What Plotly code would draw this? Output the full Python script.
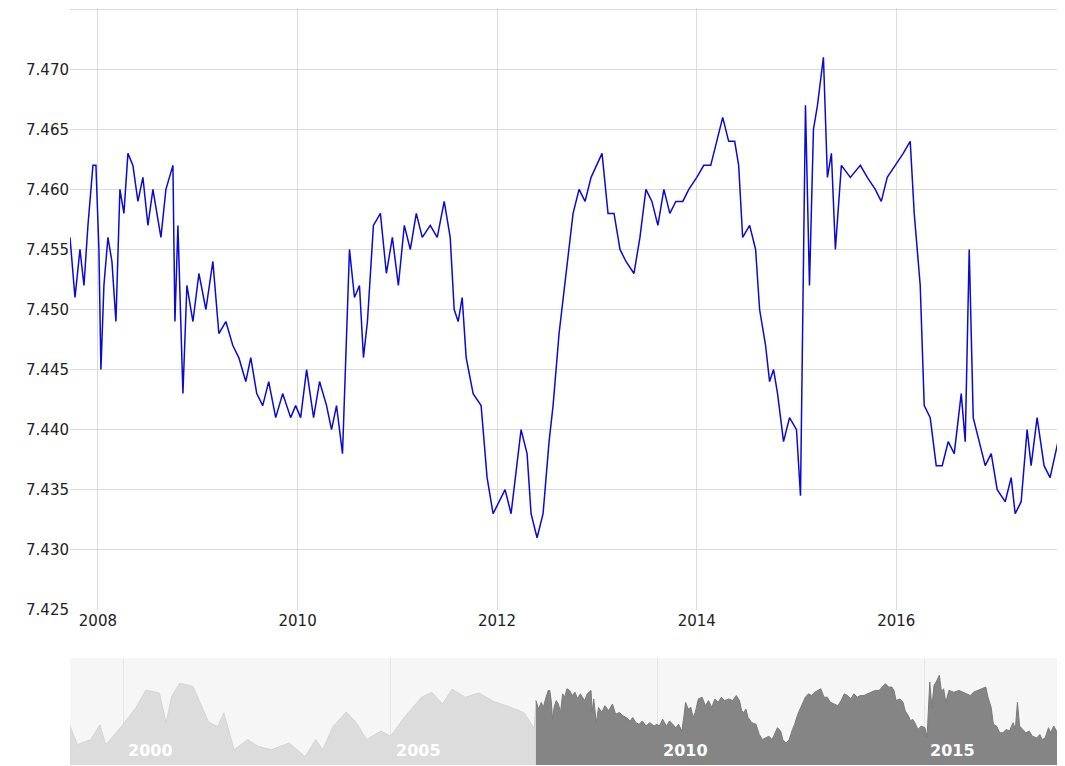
import pandas as pd
import plotly.graph_objects as go

# main series: decimal year, EUR/DKK
main_t = [2007.72, 2007.77, 2007.82, 2007.86, 2007.90, 2007.95, 2007.98, 2008.01, 2008.03, 2008.06,
          2008.10, 2008.14, 2008.18, 2008.22, 2008.26, 2008.30, 2008.35, 2008.40, 2008.45, 2008.50,
          2008.55, 2008.63, 2008.68, 2008.75, 2008.77, 2008.80, 2008.85, 2008.89, 2008.95, 2009.01,
          2009.08, 2009.15, 2009.21, 2009.28, 2009.35, 2009.41, 2009.48, 2009.53, 2009.59, 2009.65,
          2009.71, 2009.78, 2009.85, 2009.93, 2009.98, 2010.03, 2010.09, 2010.16, 2010.22, 2010.29,
          2010.34, 2010.39, 2010.45, 2010.49, 2010.52, 2010.57, 2010.62, 2010.66, 2010.70, 2010.76,
          2010.83, 2010.89, 2010.95, 2011.01, 2011.07, 2011.13, 2011.19, 2011.25, 2011.33, 2011.40,
          2011.47, 2011.53, 2011.57, 2011.61, 2011.65, 2011.69, 2011.76, 2011.84, 2011.90, 2011.96,
          2012.02, 2012.08, 2012.14, 2012.24, 2012.30, 2012.34, 2012.40, 2012.46, 2012.52, 2012.56,
          2012.62, 2012.70, 2012.76, 2012.82, 2012.88, 2012.94, 2013.05, 2013.11, 2013.17, 2013.23,
          2013.29, 2013.37, 2013.43, 2013.49, 2013.55, 2013.61, 2013.67, 2013.73, 2013.79, 2013.86,
          2013.92, 2014.00, 2014.07, 2014.14, 2014.20, 2014.26, 2014.32, 2014.38, 2014.42, 2014.46,
          2014.53, 2014.59, 2014.63, 2014.69, 2014.73, 2014.77, 2014.81, 2014.87, 2014.93, 2015.00,
          2015.04, 2015.09, 2015.13, 2015.17, 2015.21, 2015.27, 2015.31, 2015.35, 2015.39, 2015.45,
          2015.54, 2015.64, 2015.71, 2015.79, 2015.85, 2015.91, 2015.99, 2016.07, 2016.14, 2016.18,
          2016.24, 2016.28, 2016.34, 2016.40, 2016.46, 2016.52, 2016.58, 2016.65, 2016.69, 2016.73,
          2016.77, 2016.83, 2016.89, 2016.95, 2017.01, 2017.09, 2017.15, 2017.19, 2017.25, 2017.31,
          2017.35, 2017.41, 2017.48, 2017.54, 2017.62, 2017.68, 2017.74, 2017.77]
main_v = [7.4560, 7.4510, 7.4550, 7.4520, 7.4570, 7.4620, 7.4620, 7.4550, 7.4450, 7.4520,
          7.4560, 7.4540, 7.4490, 7.4600, 7.4580, 7.4630, 7.4620, 7.4590, 7.4610, 7.4570,
          7.4600, 7.4560, 7.4600, 7.4620, 7.4490, 7.4570, 7.4430, 7.4520, 7.4490, 7.4530,
          7.4500, 7.4540, 7.4480, 7.4490, 7.4470, 7.4460, 7.4440, 7.4460, 7.4430, 7.4420,
          7.4440, 7.4410, 7.4430, 7.4410, 7.4420, 7.4410, 7.4450, 7.4410, 7.4440, 7.4420,
          7.4400, 7.4420, 7.4380, 7.4470, 7.4550, 7.4510, 7.4520, 7.4460, 7.4490, 7.4570,
          7.4580, 7.4530, 7.4560, 7.4520, 7.4570, 7.4550, 7.4580, 7.4560, 7.4570, 7.4560,
          7.4590, 7.4560, 7.4500, 7.4490, 7.4510, 7.4460, 7.4430, 7.4420, 7.4360, 7.4330,
          7.4340, 7.4350, 7.4330, 7.4400, 7.4380, 7.4330, 7.4310, 7.4330, 7.4390, 7.4420,
          7.4480, 7.4540, 7.4580, 7.4600, 7.4590, 7.4610, 7.4630, 7.4580, 7.4580, 7.4550,
          7.4540, 7.4530, 7.4560, 7.4600, 7.4590, 7.4570, 7.4600, 7.4580, 7.4590, 7.4590,
          7.4600, 7.4610, 7.4620, 7.4620, 7.4640, 7.4660, 7.4640, 7.4640, 7.4620, 7.4560,
          7.4570, 7.4550, 7.4500, 7.4470, 7.4440, 7.4450, 7.4430, 7.4390, 7.4410, 7.4400,
          7.4345, 7.4670, 7.4520, 7.4650, 7.4670, 7.4710, 7.4610, 7.4630, 7.4550, 7.4620,
          7.4610, 7.4620, 7.4610, 7.4600, 7.4590, 7.4610, 7.4620, 7.4630, 7.4640, 7.4580,
          7.4520, 7.4420, 7.4410, 7.4370, 7.4370, 7.4390, 7.4380, 7.4430, 7.4390, 7.4550,
          7.4410, 7.4390, 7.4370, 7.4380, 7.4350, 7.4340, 7.4360, 7.4330, 7.4340, 7.4400,
          7.4370, 7.4410, 7.4370, 7.4360, 7.4390, 7.4380, 7.4420, 7.4400]

# earlier history shown only in the navigator
early_t = [1998.99, 1999.14, 1999.39, 1999.56, 1999.67, 1999.96, 2000.23, 2000.42, 2000.67, 2000.80,
           2000.90, 2001.05, 2001.30, 2001.47, 2001.59, 2001.76, 2001.88, 2002.07, 2002.33, 2002.52,
           2002.77, 2003.10, 2003.40, 2003.60, 2003.73, 2003.92, 2004.17, 2004.36, 2004.55, 2004.82,
           2005.00, 2005.26, 2005.58, 2005.77, 2005.97, 2006.15, 2006.40, 2006.65, 2006.92, 2007.23,
           2007.50, 2007.69]
early_v = [7.4417, 7.4300, 7.4330, 7.4417, 7.4300, 7.4406, 7.4517, 7.4622, 7.4605, 7.4429,
           7.4585, 7.4663, 7.4644, 7.4523, 7.4435, 7.4406, 7.4488, 7.4270, 7.4330, 7.4290,
           7.4270, 7.4310, 7.4230, 7.4330, 7.4270, 7.4406, 7.4493, 7.4429, 7.4330, 7.4380,
           7.4350, 7.4464, 7.4580, 7.4609, 7.4540, 7.4627, 7.4580, 7.4605, 7.4556, 7.4523,
           7.4488, 7.4396]

nav_years = [2000, 2005, 2010, 2015]
main_years = [2008, 2010, 2012, 2014, 2016]


def to_date(years):
    out = []
    for y in years:
        yi = int(y)
        start = pd.Timestamp(yi, 1, 1)
        out.append(start + (pd.Timestamp(yi + 1, 1, 1) - start) * (y - yi))
    return out


main_d = to_date(main_t)
early_d = to_date(early_t) + [main_d[0]]
early_y = early_v + [main_v[0]]

fig = go.Figure()
fig.add_trace(go.Scatter(x=main_d, y=main_v, mode='lines',
                         line=dict(color='#0a0ad8', width=1.5), showlegend=False))
fig.add_trace(go.Scatter(x=early_d, y=early_y, mode='lines', fill='tozeroy',
                         fillcolor='#dcdcdc', line=dict(color='#d4d4d4', width=1),
                         xaxis='x2', yaxis='y2', showlegend=False))
fig.add_trace(go.Scatter(x=main_d, y=main_v, mode='lines', fill='tozeroy',
                         fillcolor='#858585', line=dict(color='#7a7a7a', width=1),
                         xaxis='x2', yaxis='y2', showlegend=False))

nav_dom = [0.0, 0.141]
for y in nav_years:
    fig.add_annotation(x=pd.Timestamp(y, 1, 1), y=nav_dom[0] + 0.004, xref='x2', yref='paper',
                       text=f"<b>{y}</b>", showarrow=False, xanchor='left', yanchor='bottom',
                       xshift=3, font=dict(color='white', size=16, family='DejaVu Sans'))

fig.update_layout(
    width=1065, height=766,
    margin=dict(l=62, r=0, t=0, b=0, pad=0),
    plot_bgcolor='white', paper_bgcolor='white',
    font=dict(family='DejaVu Sans', size=15, color='#222'),
    xaxis=dict(domain=[0, 1], range=[main_d[0], main_d[-1]], anchor='y',
               tickvals=[pd.Timestamp(y, 1, 1) for y in main_years],
               ticktext=[str(y) for y in main_years],
               showgrid=True, gridcolor='#dcdcdc', zeroline=False, showline=False),
    yaxis=dict(domain=[0.205, 1], range=[7.425, 7.4751], dtick=0.005, tickformat='.3f',
               showgrid=True, gridcolor='#dcdcdc', zeroline=False, ticks=''),
    xaxis2=dict(domain=[0, 1], anchor='y2', range=[pd.Timestamp(1999, 1, 1), main_d[-1]],
                showticklabels=False, tickvals=[pd.Timestamp(y, 1, 1) for y in nav_years],
                showgrid=True, gridcolor='#e4e4e4', zeroline=False),
    yaxis2=dict(domain=nav_dom, range=[7.418, 7.481], showticklabels=False,
                showgrid=False, zeroline=False),
    shapes=[dict(type='rect', xref='paper', yref='paper', x0=0, x1=1,
                 y0=nav_dom[0], y1=nav_dom[1],
                 fillcolor='#f6f6f6', line=dict(width=0), layer='below')],
)
fig.write_html("out.html")
